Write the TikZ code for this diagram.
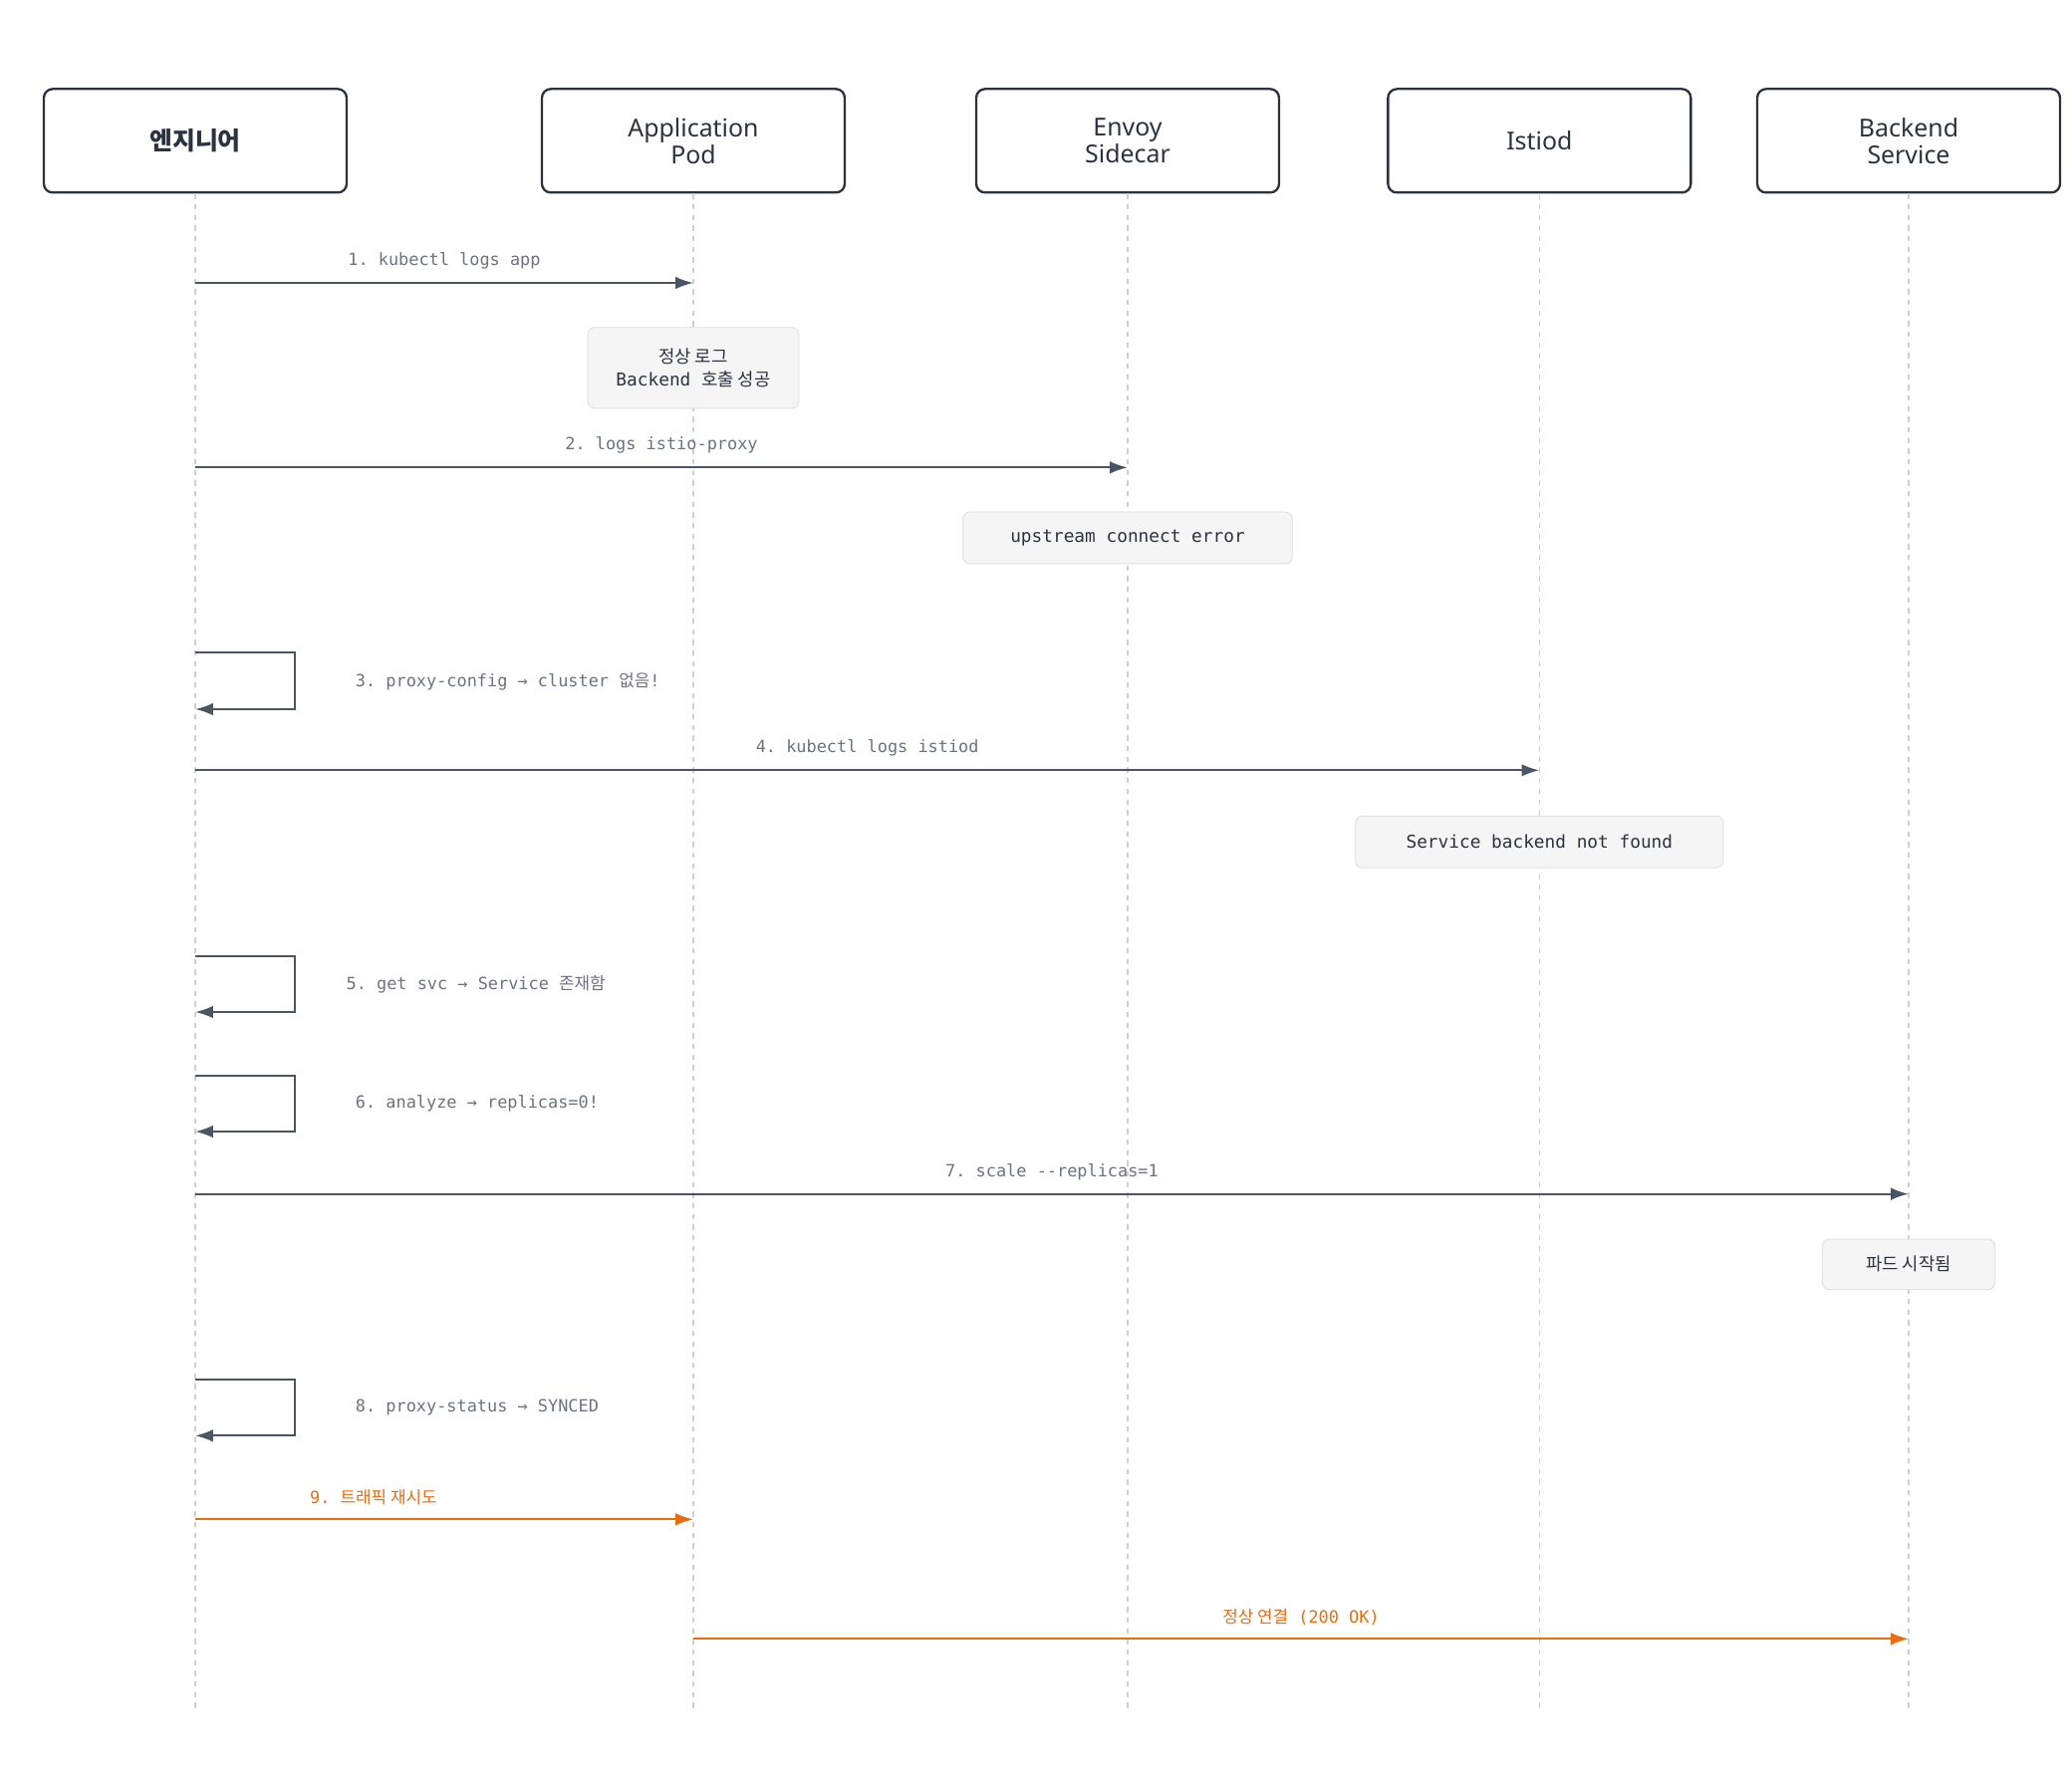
\documentclass[tikz,border=0pt]{standalone}
\usepackage{fontspec}
\setmainfont{Noto Sans}
\setmonofont{DejaVu Sans Mono}
\newfontfamily\kr{Noto Sans CJK KR}
\usetikzlibrary{arrows.meta,positioning,calc}
\definecolor{ink}{HTML}{2B3340}
\definecolor{msg}{HTML}{4B5563}
\definecolor{lbl}{HTML}{6B7280}
\definecolor{hot}{HTML}{EA6C10}
\definecolor{notebg}{HTML}{F5F5F5}
\definecolor{noteln}{HTML}{DADADA}
\definecolor{life}{HTML}{CFCFCF}
\begin{document}
\begin{tikzpicture}[x=0.75pt, y=-0.75pt, >={Latex[length=10pt,width=7pt]},
    actor/.style={draw=ink, line width=1.3pt, rounded corners=5pt, minimum width=228*0.75pt,
        minimum height=78*0.75pt, align=center, font=\fontsize{14}{15}\selectfont\bfseries, text=ink},
    note/.style={draw=noteln, fill=notebg, rounded corners=4pt, align=center,
        font=\ttfamily\fontsize{10}{13}\selectfont, text=ink, inner xsep=10pt},
    call/.style={->, draw=msg, line width=1.2pt},
    hotcall/.style={->, draw=hot, line width=1.2pt},
    tag/.style={font=\ttfamily\fontsize{9.5}{11}\selectfont, text=lbl},
    lifeline/.style={draw=life, dashed, line width=0.9pt}]
    \useasboundingbox (0,0) rectangle (1560,1335);

    % actors
    \node[actor] (eng) at (147,106) {\kr 엔지니어};
    \node[actor] (app) at (522,106) {Application\\Pod};
    \node[actor] (envoy) at (849,106) {Envoy\\Sidecar};
    \node[actor] (istiod) at (1159,106) {Istiod};
    \node[actor] (back) at (1437,106) {Backend\\Service};

    % lifelines
    \foreach \a in {eng,app,envoy,istiod,back}
        \draw[lifeline] (\a.south) -- (\a.south |- 0,1287);

    % 1
    \coordinate (m1) at (eng.south |- 0,213);
    \coordinate (m1e) at (app.south |- 0,213);
    \draw[call] (m1) -- (m1e) node[tag, midway, above=4pt] {1. kubectl logs app};
    \node[note, minimum width=159*0.75pt, minimum height=61*0.75pt] (n1) at (522,277) {{\kr 정상 로그}\\Backend {\kr 호출 성공}};

    % 2
    \coordinate (m2) at (eng.south |- 0,352);
    \coordinate (m2e) at (envoy.south |- 0,352);
    \draw[call] (m2) -- (m2e) node[tag, midway, above=4pt] {2. logs istio-proxy};
    \node[note, minimum width=248*0.75pt, minimum height=39*0.75pt] (n2) at (849,405) {upstream connect error};

    % 3
    \coordinate (s3) at (eng.south |- 0,491);
    \coordinate (s3e) at (eng.south |- 0,534);
    \draw[call] (s3) -| (222,512) |- (s3e);
    \node[tag, anchor=west] (t3) at (263,513) {3. proxy-config → cluster {\kr 없음}!};

    % 4
    \coordinate (m4) at (eng.south |- 0,580);
    \coordinate (m4e) at (istiod.south |- 0,580);
    \draw[call] (m4) -- (m4e) node[tag, midway, above=4pt] {4. kubectl logs istiod};
    \node[note, minimum width=277*0.75pt, minimum height=39*0.75pt] (n4) at (1159,634) {Service backend not found};

    % 5
    \coordinate (s5) at (eng.south |- 0,720);
    \coordinate (s5e) at (eng.south |- 0,762);
    \draw[call] (s5) -| (222,741) |- (s5e);
    \node[tag, anchor=west] (t5) at (256,741) {5. get svc → Service {\kr 존재함}};

    % 6
    \coordinate (s6) at (eng.south |- 0,810);
    \coordinate (s6e) at (eng.south |- 0,852);
    \draw[call] (s6) -| (222,831) |- (s6e);
    \node[tag, anchor=west] (t6) at (263,831) {6. analyze → replicas=0!};

    % 7
    \coordinate (m7) at (eng.south |- 0,899);
    \coordinate (m7e) at (back.south |- 0,899);
    \draw[call] (m7) -- (m7e) node[tag, midway, above=4pt] {7. scale --replicas=1};
    \node[note, minimum width=130*0.75pt, minimum height=38*0.75pt] (n7) at (1437,952) {\kr 파드 시작됨};

    % 8
    \coordinate (s8) at (eng.south |- 0,1039);
    \coordinate (s8e) at (eng.south |- 0,1081);
    \draw[call] (s8) -| (222,1060) |- (s8e);
    \node[tag, anchor=west] (t8) at (263,1060) {8. proxy-status → SYNCED};

    % 9
    \coordinate (m9) at (eng.south |- 0,1144);
    \coordinate (m9e) at (app.south |- 0,1144);
    \draw[hotcall] (m9) -- (m9e) node[tag, text=hot, pos=0.5, above=4pt, xshift=-40pt] {9. {\kr 트래픽 재시도}};

    % 10
    \coordinate (m10) at (app.south |- 0,1234);
    \coordinate (m10e) at (back.south |- 0,1234);
    \draw[hotcall] (m10) -- (m10e) node[tag, text=hot, midway, above=4pt] {{\kr 정상 연결} (200 OK)};
\end{tikzpicture}
\end{document}
